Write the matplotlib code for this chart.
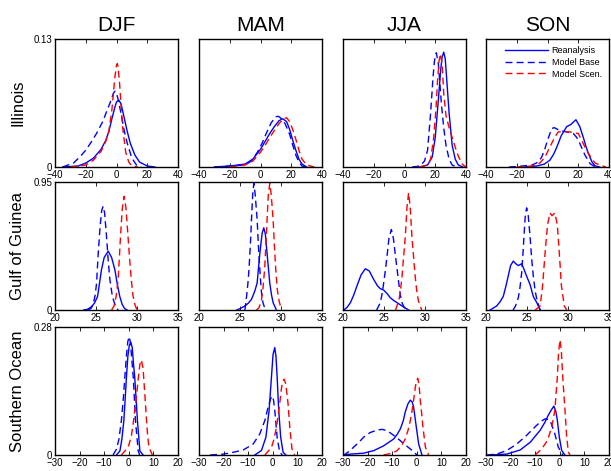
import matplotlib
matplotlib.use('Agg')
import matplotlib.pyplot as plt

plt.rcParams['font.family'] = ['Liberation Sans', 'DejaVu Sans']

seasons = ['DJF', 'MAM', 'JJA', 'SON']
regions = ['Illinois', 'Gulf of Guinea', 'Southern Ocean']
series_labels = ['Reanalysis', 'Model Base', 'Model Scen.']

# axis limits / ticks per region (row)
row_xlim = [(-40, 40), (20, 35), (-30, 20)]
row_xticks = [[-40, -20, 0, 20, 40], [20, 25, 30, 35], [-30, -20, -10, 0, 10, 20]]
row_ymax = [0.13, 0.95, 0.28]
row_ymax_label = ['0.13', '0.95', '0.28']

# ---- Illinois ----
ill_djf_rea_x = [-35, -25, -20, -15, -10, -7, -5, -3, -1, 0, 1.5, 3, 5, 7, 9, 12, 15, 20, 25]
ill_djf_rea_y = [0, 0.001, 0.004, 0.009, 0.018, 0.027, 0.036, 0.049, 0.061, 0.066, 0.068, 0.064, 0.050, 0.036, 0.024, 0.012, 0.005, 0.001, 0]
ill_djf_base_x = [-35, -28, -24, -20, -17, -13, -9, -6, -4, -2, -1, 0, 1, 3, 5, 7, 10, 13, 16]
ill_djf_base_y = [0, 0.004, 0.010, 0.017, 0.024, 0.034, 0.046, 0.058, 0.066, 0.075, 0.077, 0.075, 0.069, 0.054, 0.037, 0.024, 0.009, 0.002, 0]
ill_djf_scen_x = [-30, -20, -15, -10, -7, -5, -3, -1, 0, 0.5, 1, 2, 3, 4, 6, 8, 10, 14]
ill_djf_scen_y = [0, 0.002, 0.007, 0.016, 0.026, 0.036, 0.058, 0.092, 0.103, 0.105, 0.102, 0.085, 0.062, 0.040, 0.015, 0.005, 0.001, 0]

ill_mam_rea_x = [-30, -20, -10, -5, 0, 3, 6, 9, 12, 14.5, 17, 19, 21, 23, 25, 27, 30]
ill_mam_rea_y = [0, 0.001, 0.003, 0.008, 0.018, 0.026, 0.034, 0.041, 0.047, 0.049, 0.046, 0.038, 0.027, 0.017, 0.008, 0.003, 0]
ill_mam_base_x = [-30, -20, -10, -6, -2, 1, 4, 7, 10, 11.5, 13, 16, 19, 21, 23, 25, 27, 30]
ill_mam_base_y = [0, 0.001, 0.002, 0.006, 0.015, 0.024, 0.035, 0.045, 0.051, 0.0515, 0.050, 0.044, 0.033, 0.022, 0.012, 0.005, 0.001, 0]
ill_mam_scen_x = [-20, -10, -5, 0, 3, 6, 9, 12, 15, 17, 19, 21, 23, 25, 27, 30, 35]
ill_mam_scen_y = [0, 0.002, 0.006, 0.015, 0.022, 0.030, 0.037, 0.044, 0.049, 0.050, 0.046, 0.038, 0.028, 0.017, 0.008, 0.002, 0]

ill_jja_rea_x = [10, 15, 18, 20, 22, 23.5, 24.5, 25.5, 26.5, 27.5, 29, 31, 33, 35, 38]
ill_jja_rea_y = [0, 0.002, 0.010, 0.030, 0.068, 0.098, 0.112, 0.1166, 0.110, 0.088, 0.055, 0.022, 0.008, 0.002, 0]
ill_jja_base_x = [5, 10, 13, 15, 17, 18.5, 19.5, 20.7, 22, 23, 24, 25.5, 27, 29, 31, 34]
ill_jja_base_y = [0, 0.001, 0.006, 0.017, 0.055, 0.090, 0.108, 0.116, 0.105, 0.085, 0.064, 0.040, 0.022, 0.008, 0.002, 0]
ill_jja_scen_x = [10, 15, 17, 19, 20.5, 21.5, 22.5, 23.3, 24.5, 25.5, 27, 29, 31, 33, 35, 37.5, 40]
ill_jja_scen_y = [0, 0.002, 0.008, 0.030, 0.060, 0.088, 0.108, 0.115, 0.104, 0.075, 0.052, 0.040, 0.030, 0.020, 0.011, 0.003, 0]

ill_son_rea_x = [-15, -7, -2, 1.6, 4, 6, 9, 12.5, 15, 18.5, 21, 23.3, 25, 26.6, 29, 31, 34]
ill_son_rea_y = [0, 0.001, 0.003, 0.007, 0.013, 0.020, 0.032, 0.041, 0.043, 0.048, 0.041, 0.030, 0.021, 0.0136, 0.005, 0.001, 0]
ill_son_base_x = [-25, -20, -10, -6, -3.8, -2, 0, 2.7, 4.4, 8, 12.5, 16.8, 19, 21, 24.4, 27.7, 31]
ill_son_base_y = [0, 0.0005, 0.002, 0.005, 0.010, 0.017, 0.027, 0.039, 0.040, 0.037, 0.0356, 0.034, 0.030, 0.024, 0.012, 0.0034, 0]
ill_son_scen_x = [-20, -10, -5, -1.6, 0.5, 2.7, 5, 7, 10.3, 14.6, 20, 22, 24.4, 26.5, 28.7, 31, 34, 38]
ill_son_scen_y = [0, 0.001, 0.004, 0.010, 0.017, 0.024, 0.031, 0.0356, 0.036, 0.0356, 0.034, 0.028, 0.020, 0.014, 0.0085, 0.004, 0.002, 0]

# ---- Gulf of Guinea ----
gog_djf_rea_x = [23.5, 24.0, 24.46, 24.8, 25.19, 25.67, 26.0, 26.49, 26.9, 27.3, 27.6, 27.9, 28.2, 28.5, 28.8]
gog_djf_rea_y = [0, 0.006, 0.025, 0.05, 0.10, 0.30, 0.39, 0.437, 0.39, 0.30, 0.19, 0.10, 0.04, 0.01, 0]
gog_djf_base_x = [24.0, 24.4, 24.66, 24.9, 25.07, 25.27, 25.5, 25.7, 25.88, 26.05, 26.28, 26.5, 26.69, 27.0, 27.3, 27.7]
gog_djf_base_y = [0, 0.012, 0.042, 0.11, 0.20, 0.42, 0.62, 0.74, 0.77, 0.72, 0.548, 0.36, 0.227, 0.10, 0.042, 0]
gog_djf_scen_x = [26.9, 27.2, 27.45, 27.7, 27.85, 27.99, 28.2, 28.43, 28.65, 28.9, 29.1, 29.3, 29.5, 29.73, 30.0]
gog_djf_scen_y = [0, 0.03, 0.10, 0.227, 0.39, 0.548, 0.75, 0.844, 0.76, 0.548, 0.38, 0.227, 0.11, 0.042, 0]

gog_mam_rea_x = [24.6, 25.0, 25.6, 26.0, 26.4, 26.8, 27.09, 27.42, 27.7, 27.9, 28.1, 28.3, 28.63, 28.85, 29.04, 29.44]
gog_mam_rea_y = [0, 0.01, 0.03, 0.05, 0.079, 0.14, 0.20, 0.42, 0.57, 0.61, 0.56, 0.42, 0.20, 0.11, 0.054, 0]
gog_mam_base_x = [25.6, 25.8, 26.0, 26.12, 26.3, 26.4, 26.55, 26.69, 26.85, 27.09, 27.25, 27.42, 27.6, 27.8, 28.1]
gog_mam_base_y = [0, 0.10, 0.22, 0.326, 0.53, 0.67, 0.86, 0.94, 0.86, 0.67, 0.47, 0.30, 0.14, 0.054, 0]
gog_mam_scen_x = [27.0, 27.3, 27.6, 27.8, 28.0, 28.15, 28.3, 28.45, 28.63, 28.8, 29.04, 29.2, 29.36, 29.55, 29.77, 30.05]
gog_mam_scen_y = [0, 0.015, 0.067, 0.16, 0.30, 0.48, 0.67, 0.85, 0.94, 0.86, 0.67, 0.47, 0.30, 0.15, 0.067, 0]

gog_jja_rea_x = [20.1, 20.5, 20.9, 21.3, 21.7, 22.2, 22.72, 23.2, 23.74, 24.2, 24.55, 24.96, 25.4, 25.77, 26.2, 26.6, 27.2, 28.0]
gog_jja_rea_y = [0, 0.02, 0.054, 0.11, 0.178, 0.26, 0.306, 0.29, 0.227, 0.18, 0.158, 0.148, 0.12, 0.091, 0.07, 0.054, 0.03, 0]
gog_jja_base_x = [24.1, 24.55, 24.8, 24.96, 25.2, 25.37, 25.6, 25.9, 26.15, 26.4, 26.6, 26.8, 27.0, 27.2, 27.6]
gog_jja_base_y = [0, 0.054, 0.13, 0.20, 0.31, 0.40, 0.53, 0.597, 0.53, 0.40, 0.30, 0.20, 0.11, 0.054, 0]
gog_jja_scen_x = [26.4, 26.8, 27.0, 27.2, 27.4, 27.6, 27.8, 28.0, 28.2, 28.4, 28.6, 28.8, 29.0, 29.2, 29.6]
gog_jja_scen_y = [0, 0.067, 0.14, 0.25, 0.40, 0.548, 0.76, 0.87, 0.76, 0.548, 0.40, 0.25, 0.14, 0.067, 0]

gog_son_rea_x = [20.5, 21.3, 21.7, 22.1, 22.4, 22.7, 23.0, 23.33, 23.6, 23.94, 24.35, 24.65, 24.96, 25.37, 25.77, 26.2, 26.6]
gog_son_rea_y = [0, 0.03, 0.06, 0.10, 0.17, 0.25, 0.33, 0.363, 0.345, 0.33, 0.343, 0.30, 0.25, 0.19, 0.10, 0.054, 0]
gog_son_base_x = [23.3, 23.6, 23.94, 24.15, 24.35, 24.5, 24.63, 24.8, 24.96, 25.15, 25.37, 25.57, 25.77, 26.0, 26.2, 26.6]
gog_son_base_y = [0, 0.03, 0.091, 0.17, 0.276, 0.41, 0.548, 0.71, 0.758, 0.70, 0.548, 0.38, 0.25, 0.14, 0.079, 0]
gog_son_scen_x = [26.0, 26.6, 26.9, 27.05, 27.2, 27.5, 27.8, 28.05, 28.4, 28.7, 28.94, 29.07, 29.2, 29.55, 29.84]
gog_son_scen_y = [0, 0.03, 0.178, 0.30, 0.42, 0.63, 0.72, 0.70, 0.72, 0.63, 0.42, 0.30, 0.178, 0.03, 0]

# ---- Southern Ocean ----
so_djf_rea_x = [-5.0, -3.6, -2.8, -2.0, -1.4, -0.95, -0.4, 0.2, 0.8, 1.4, 1.9, 2.4, 3.0, 3.5, 4.5, 5.8]
so_djf_rea_y = [0, 0.009, 0.035, 0.076, 0.13, 0.171, 0.215, 0.24, 0.247, 0.235, 0.20, 0.171, 0.12, 0.076, 0.009, 0]
so_djf_base_x = [-6.4, -5.0, -4.0, -3.0, -2.2, -1.6, -1.0, -0.4, 0.14, 0.7, 1.2, 1.8, 2.3, 2.7, 3.8, 4.4]
so_djf_base_y = [0, 0.013, 0.035, 0.076, 0.125, 0.171, 0.215, 0.248, 0.259, 0.245, 0.21, 0.171, 0.12, 0.076, 0.01, 0]
so_djf_scen_x = [-3.0, -0.27, 1.0, 1.76, 2.5, 3.1, 3.8, 4.5, 5.1, 5.8, 6.5, 7.2, 7.7, 8.2, 9.6]
so_djf_scen_y = [0, 0.017, 0.04, 0.068, 0.10, 0.127, 0.165, 0.198, 0.208, 0.19, 0.134, 0.076, 0.04, 0.017, 0]

so_mam_rea_x = [-7.3, -4.6, -2.8, -1.5, -0.54, 0.1, 0.8, 1.3, 1.76, 2.4, 3.2, 4.2, 5.3]
so_mam_rea_y = [0, 0.01, 0.039, 0.098, 0.171, 0.22, 0.235, 0.215, 0.171, 0.098, 0.039, 0.006, 0]
so_mam_base_x = [-25.5, -20, -16, -12, -8, -5.3, -3.2, -1.9, -0.9, -0.27, 0.3, 0.8, 1.76, 2.8, 3.9]
so_mam_base_y = [0, 0.002, 0.006, 0.011, 0.024, 0.046, 0.076, 0.105, 0.123, 0.129, 0.12, 0.098, 0.039, 0.006, 0]
so_mam_scen_x = [-3.2, -0.5, 0.5, 1.5, 2.2, 2.8, 3.5, 4.0, 4.6, 5.3, 6.2, 6.9, 7.8, 8.9]
so_mam_scen_y = [0, 0.017, 0.035, 0.061, 0.088, 0.112, 0.145, 0.16, 0.166, 0.155, 0.112, 0.061, 0.013, 0]

so_jja_rea_x = [-30, -27, -21.6, -17.5, -13.5, -9.4, -8, -6.7, -5.5, -4.7, -3.6, -2.6, -1.9, -1.3, -0.2, 0.76, 2.1]
so_jja_rea_y = [0, 0.002, 0.004, 0.0096, 0.02, 0.035, 0.045, 0.057, 0.075, 0.094, 0.112, 0.12, 0.116, 0.105, 0.061, 0.024, 0]
so_jja_base_x = [-30, -29.1, -27.5, -25.7, -23.5, -21.6, -19, -16, -14, -12, -9.4, -7.5, -6, -4.2, -2.6, 0.08]
so_jja_base_y = [0, 0.002, 0.008, 0.017, 0.028, 0.039, 0.049, 0.055, 0.056, 0.053, 0.043, 0.035, 0.028, 0.02, 0.013, 0]
so_jja_scen_x = [-13.5, -10, -8, -6, -4.7, -3.5, -2.6, -1.9, -1.3, -0.5, 0.35, 0.9, 1.4, 2.0, 2.5, 3.5, 4.8]
so_jja_scen_y = [0, 0.004, 0.0096, 0.022, 0.035, 0.055, 0.076, 0.098, 0.12, 0.152, 0.168, 0.155, 0.12, 0.09, 0.061, 0.017, 0]

so_son_rea_x = [-28, -21.6, -16.1, -12, -8, -6, -4.7, -3.5, -2.4, -1.6, -1.0, -0.2, 0.76, 2.1]
so_son_rea_y = [0, 0.002, 0.011, 0.028, 0.054, 0.072, 0.087, 0.098, 0.107, 0.095, 0.076, 0.039, 0.01, 0]
so_son_base_x = [-29.7, -25.7, -21.6, -17.5, -13.5, -9.4, -7.5, -6, -5, -4, -3, -2, -0.6, 1.2]
so_son_base_y = [0, 0.002, 0.0096, 0.024, 0.043, 0.065, 0.074, 0.079, 0.078, 0.076, 0.062, 0.046, 0.017, 0]
so_son_scen_x = [-10, -7.4, -5, -3.3, -2.0, -1.5, -1.0, -0.5, 0.08, 0.6, 1.2, 1.7, 2.1, 2.8, 3.5, 4.2]
so_son_scen_y = [0, 0.013, 0.032, 0.061, 0.098, 0.135, 0.171, 0.225, 0.252, 0.23, 0.171, 0.13, 0.098, 0.039, 0.006, 0]

# lookup table built from the named lists: [row][col] -> (rea, base, scen)
curves = [
    [((ill_djf_rea_x, ill_djf_rea_y), (ill_djf_base_x, ill_djf_base_y), (ill_djf_scen_x, ill_djf_scen_y)),
     ((ill_mam_rea_x, ill_mam_rea_y), (ill_mam_base_x, ill_mam_base_y), (ill_mam_scen_x, ill_mam_scen_y)),
     ((ill_jja_rea_x, ill_jja_rea_y), (ill_jja_base_x, ill_jja_base_y), (ill_jja_scen_x, ill_jja_scen_y)),
     ((ill_son_rea_x, ill_son_rea_y), (ill_son_base_x, ill_son_base_y), (ill_son_scen_x, ill_son_scen_y))],
    [((gog_djf_rea_x, gog_djf_rea_y), (gog_djf_base_x, gog_djf_base_y), (gog_djf_scen_x, gog_djf_scen_y)),
     ((gog_mam_rea_x, gog_mam_rea_y), (gog_mam_base_x, gog_mam_base_y), (gog_mam_scen_x, gog_mam_scen_y)),
     ((gog_jja_rea_x, gog_jja_rea_y), (gog_jja_base_x, gog_jja_base_y), (gog_jja_scen_x, gog_jja_scen_y)),
     ((gog_son_rea_x, gog_son_rea_y), (gog_son_base_x, gog_son_base_y), (gog_son_scen_x, gog_son_scen_y))],
    [((so_djf_rea_x, so_djf_rea_y), (so_djf_base_x, so_djf_base_y), (so_djf_scen_x, so_djf_scen_y)),
     ((so_mam_rea_x, so_mam_rea_y), (so_mam_base_x, so_mam_base_y), (so_mam_scen_x, so_mam_scen_y)),
     ((so_jja_rea_x, so_jja_rea_y), (so_jja_base_x, so_jja_base_y), (so_jja_scen_x, so_jja_scen_y)),
     ((so_son_rea_x, so_son_rea_y), (so_son_base_x, so_son_base_y), (so_son_scen_x, so_son_scen_y))],
]

W, H = 611, 471
fig = plt.figure(figsize=(W / 100, H / 100), dpi=100, facecolor='white')

col_left = [55, 199, 343, 486]
row_top = [39, 182, 327]
ax_w, ax_h = 123, 128

styles = [dict(color='blue', linestyle='-'),
          dict(color='blue', linestyle=(0, (5, 3))),
          dict(color='red', linestyle=(0, (5, 3)))]

for r in range(3):
    for c in range(4):
        ax = fig.add_axes([col_left[c] / W, 1 - (row_top[r] + ax_h) / H, ax_w / W, ax_h / H])
        for (x, y), st, lab in zip(curves[r][c], styles, series_labels):
            ax.plot(x, y, lw=1.0, label=lab, **st)
        ax.set_xlim(*row_xlim[r])
        ax.set_ylim(0, row_ymax[r])
        ax.set_xticks(row_xticks[r])
        ax.set_yticks([0, row_ymax[r]])
        if c == 0:
            ax.set_yticklabels(['0', row_ymax_label[r]])
        else:
            ax.set_yticklabels([])
        ax.tick_params(direction='in', top=True, right=True, length=3, width=0.6,
                       labelsize=7, pad=2)
        for sp in ax.spines.values():
            sp.set_linewidth(1.0)
        if r == 0:
            ax.set_title(seasons[c], fontsize=15, pad=6)
        if c == 0:
            fig.text(18 / W, 1 - (row_top[r] + ax_h / 2) / H, regions[r], rotation=90,
                     ha='center', va='center', fontsize=12)
        if r == 0 and c == 3:
            ax.legend(loc='upper right', frameon=False, fontsize=6.5, handlelength=4.8,
                      handletextpad=0.4, labelspacing=0.3, borderaxespad=0.4)

fig.savefig('out.png', dpi=100, facecolor='white')
